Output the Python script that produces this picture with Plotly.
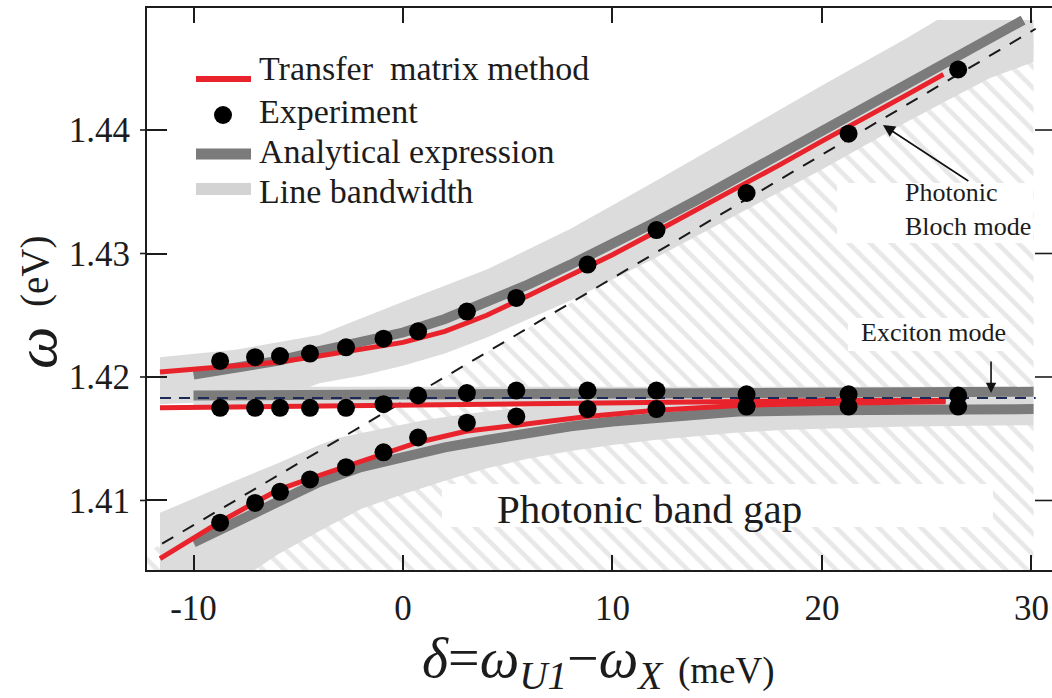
import plotly.graph_objects as go

# ---------------- data (detuning in meV, energy in eV) ----------------
exp_delta = [-8.73, -7.06, -5.87, -4.44, -2.72, -0.93, 0.72, 3.05, 5.41, 8.81, 12.1, 16.4, 21.27, 26.5]
exp_upper = [1.4213, 1.4216, 1.4217, 1.4219, 1.4224, 1.4231, 1.4237, 1.4253, 1.4264, 1.4291, 1.4319, 1.4349, 1.4397, 1.4449]
exp_middle = [1.4175, 1.4175, 1.4175, 1.4175, 1.4175, 1.4178, 1.4185, 1.4187, 1.4189, 1.4189, 1.4189, 1.4186, 1.4186, 1.4185]
exp_lower = [1.4082, 1.4098, 1.4107, 1.4117, 1.4127, 1.4139, 1.4151, 1.4163, 1.4168, 1.4174, 1.4174, 1.4176, 1.4176, 1.4176]

# transfer matrix method
tmm_up_delta = [-11.6, -10, -8, -6, -4, -2, 0, 2, 4, 6, 8, 10, 12, 14, 16, 18, 20, 22, 24, 25.8]
tmm_up = [1.4204, 1.4206, 1.4209, 1.4212, 1.4217, 1.4222, 1.4228, 1.4237, 1.4250, 1.4266, 1.4282,
          1.4299, 1.4317, 1.4335, 1.4354, 1.4372, 1.4391, 1.4409, 1.4428, 1.4445]
tmm_mid_delta = [-11.6, -5, 0, 5, 10, 15, 20, 25.9]
tmm_mid = [1.4175, 1.4176, 1.4177, 1.4178, 1.4179, 1.4180, 1.4181, 1.4181]
tmm_low_delta = [-11.6, -10, -8.7, -7, -5.9, -4.4, -2.7, -1, 0.7, 3, 5.4, 8.8, 12.1, 16, 21.3, 25.9]
tmm_low = [1.4053, 1.4070, 1.4083, 1.4099, 1.4109, 1.4118, 1.4128, 1.4138, 1.4147, 1.4156, 1.4161,
           1.4168, 1.4173, 1.4177, 1.4179, 1.4180]

# analytical expression
ana_up_delta = [-10, -8, -6, -4, -2, 0, 2, 4, 6, 8, 10, 12, 14, 16, 18, 20, 22, 24, 26, 28, 29.6]
ana_up = [1.4202, 1.4207, 1.4213, 1.4221, 1.4229, 1.4236, 1.4247, 1.4260, 1.4275, 1.4291, 1.4307,
          1.4325, 1.4343, 1.4362, 1.4381, 1.4400, 1.4418, 1.4437, 1.4456, 1.4474, 1.4489]
ana_mid_delta = [-10, 0, 10, 20, 30.1]
ana_mid = [1.4185, 1.4186, 1.4187, 1.4188, 1.4188]
ana_low_delta = [-10, -8, -6, -4, -2, 0, 2, 4, 6, 8, 10, 12, 14, 16, 20, 24, 30.1]
ana_low = [1.4066, 1.4083, 1.4100, 1.4115, 1.4127, 1.4136, 1.4143, 1.4149, 1.4155, 1.4160, 1.4164,
           1.4167, 1.4170, 1.4172, 1.4173, 1.4174, 1.4174]

# line bandwidth envelopes
bw_up_top_delta = [-11.6, -8, -4, 0, 4, 8, 12, 16, 20, 24, 25.5, 30.1]
bw_up_top = [1.4216, 1.4222, 1.4234, 1.4261, 1.4287, 1.4320, 1.4358, 1.4397, 1.4436, 1.4474, 1.4489, 1.4489]
bw_up_bot_delta = [-11.6, -6, -4, -2, 0, 2, 4, 6, 8, 10, 12, 14, 16, 18, 20, 22, 24, 26, 28, 30.1]
bw_up_bot = [1.4178, 1.4182, 1.4195, 1.4201, 1.4209, 1.4219, 1.4232, 1.4247, 1.4262, 1.4279, 1.4296,
             1.4314, 1.4332, 1.4350, 1.4368, 1.4387, 1.4406, 1.4424, 1.4442, 1.4455]
bw_x_delta = [-10, 30.1]
bw_x_top = [1.4192, 1.4192]
bw_x_bot = [1.4176, 1.4176]
bw_low_top_delta = [-11.6, -8, -6, -4, -3, -1, 1, 3, 5, 7, 30.1]
bw_low_top = [1.4090, 1.4116, 1.4130, 1.4145, 1.4151, 1.4158, 1.4165, 1.4170, 1.4174, 1.4177, 1.4178]
bw_low_bot_delta = [-11.6, -7.4, -6, -4, -2, 0, 2, 4, 6, 8, 10, 12, 14, 16, 18, 20, 24, 30.1]
bw_low_bot = [1.4040, 1.4040, 1.4056, 1.4075, 1.4093, 1.4105, 1.4116, 1.4126, 1.4134, 1.4140, 1.4145,
              1.4149, 1.4152, 1.4155, 1.4157, 1.4158, 1.4160, 1.4161]

# bare photon and exciton modes
photon_delta = [-11.5, 30.2]
photon_omega = [1.4065, 1.4482]
exciton_delta = [-11.6, 30.2]
exciton_omega = [1.4183, 1.4183]

# photonic band gap region (below the photon mode)
gap_delta = [-12.3, 30.1, 30.1, -12.3]
gap_omega = [1.4040, 1.4040, 1.4481, 1.4057]

x_ticks = [-10, 0, 10, 20, 30]
x_ticktext = ["-10", "0", "10", "20", "30"]
y_ticks = [1.41, 1.42, 1.43, 1.44]
y_ticktext = ["1.41", "1.42", "1.43", "1.44"]

# ---------------- style ----------------
FONT = "Liberation Serif, Times New Roman, DejaVu Serif, serif"
RED = "#e8232b"
DARK = "#7b7b7b"
LIGHT = "#dcdcdc"
INK = "#1c1c1c"

W, H = 1052, 698
ML, MR, MT, MB = 147, 0, 8, 128
PW, PH = W - ML - MR, H - MT - MB


def px(xp):
    return (xp - ML) / PW


def py(yp):
    return (H - MB - yp) / PH


def band(top_d, top_v, bot_d, bot_v):
    return top_d + bot_d[::-1], top_v + bot_v[::-1]


fig = go.Figure()

# hatched band gap
fig.add_trace(go.Scatter(
    x=gap_delta, y=gap_omega, mode="none", fill="toself",
    fillcolor="rgba(0,0,0,0)",
    fillpattern=dict(shape="\\", fgcolor="#d2d2d2", bgcolor="white", size=15, solidity=0.32),
    hoverinfo="skip"))

# light bandwidth areas
for td, tv, bd, bv in [(bw_up_top_delta, bw_up_top, bw_up_bot_delta, bw_up_bot),
                       (bw_low_top_delta, bw_low_top, bw_low_bot_delta, bw_low_bot),
                       (bw_x_delta, bw_x_top, bw_x_delta, bw_x_bot)]:
    bx, by = band(td, tv, bd, bv)
    fig.add_trace(go.Scatter(x=bx, y=by, mode="none", fill="toself", fillcolor=LIGHT,
                             hoverinfo="skip"))

# analytical expression
for d, v in [(ana_up_delta, ana_up), (ana_mid_delta, ana_mid), (ana_low_delta, ana_low)]:
    fig.add_trace(go.Scatter(x=d, y=v, mode="lines", line=dict(color=DARK, width=10)))

# bare photon mode
fig.add_trace(go.Scatter(x=photon_delta, y=photon_omega, mode="lines",
                         line=dict(color="#1a1a1a", width=2, dash="13px,11px")))

# transfer matrix method
for d, v in [(tmm_up_delta, tmm_up), (tmm_mid_delta, tmm_mid), (tmm_low_delta, tmm_low)]:
    fig.add_trace(go.Scatter(x=d, y=v, mode="lines", line=dict(color=RED, width=5)))

# exciton mode
fig.add_trace(go.Scatter(x=exciton_delta, y=exciton_omega, mode="lines",
                         line=dict(color="#1d2a57", width=2, dash="11px,8px")))

# experiment
for v in (exp_upper, exp_middle, exp_lower):
    fig.add_trace(go.Scatter(x=exp_delta, y=v, mode="markers",
                             marker=dict(color="black", size=18, line=dict(width=0))))

shapes = []
# white label backgrounds
for x0, x1, y0, y1 in [(1.86, 28.16, 1.40785, 1.41134),
                       (20.72, 30.07, 1.43085, 1.43571),
                       (21.24, 28.64, 1.42211, 1.42478)]:
    shapes.append(dict(type="rect", xref="x", yref="y", x0=x0, x1=x1, y0=y0, y1=y1,
                       fillcolor="white", line=dict(width=0), layer="above"))

# outer part of left ticks and inner ticks at right edge
for t in y_ticks:
    shapes.append(dict(type="line", xref="paper", yref="y", x0=px(140), x1=px(147), y0=t, y1=t,
                       line=dict(color=INK, width=1.6)))
    shapes.append(dict(type="line", xref="paper", yref="y", x0=px(1035), x1=1.0, y0=t, y1=t,
                       line=dict(color=INK, width=1.6)))

# legend samples
shapes.append(dict(type="line", xref="paper", yref="paper", x0=px(196), x1=px(251),
                   y0=py(79), y1=py(79), line=dict(color=RED, width=6)))
shapes.append(dict(type="circle", xref="paper", yref="paper", x0=px(214), x1=px(232),
                   y0=py(124), y1=py(106), fillcolor="black", line=dict(width=0)))
shapes.append(dict(type="line", xref="paper", yref="paper", x0=px(196), x1=px(251),
                   y0=py(154), y1=py(154), line=dict(color=DARK, width=11)))
shapes.append(dict(type="line", xref="paper", yref="paper", x0=px(196), x1=px(251),
                   y0=py(189), y1=py(189), line=dict(color="#d3d3d3", width=12)))

annotations = []
legend_items = [("Transfer\u00a0 matrix method", 68), ("Experiment", 112),
                ("Analytical expression", 151), ("Line bandwidth", 192)]
for txt, yp in legend_items:
    annotations.append(dict(text=txt, xref="paper", yref="paper", x=px(257), y=py(yp),
                            xanchor="left", yanchor="middle", showarrow=False,
                            font=dict(family=FONT, size=34, color=INK)))

annotations += [
    dict(text="Photonic band gap", xref="x", yref="y", x=11.79, y=1.4093,
         xanchor="center", yanchor="middle", showarrow=False,
         font=dict(family=FONT, size=41, color=INK)),
    dict(text="Photonic<br>Bloch mode", xref="x", yref="y", x=23.87, y=1.4336,
         xanchor="left", yanchor="middle", align="left", showarrow=False,
         font=dict(family=FONT, size=26, color=INK)),
    dict(text="Exciton mode", xref="x", yref="y", x=25.3, y=1.4236,
         xanchor="center", yanchor="middle", showarrow=False,
         font=dict(family=FONT, size=26, color=INK)),
    dict(text="", xref="x", yref="y", x=22.91, y=1.4404, axref="x", ayref="y",
         ax=27.06, ay=1.43579, showarrow=True, arrowhead=2, arrowsize=1.5,
         arrowwidth=1.6, arrowcolor="#111"),
    dict(text="", xref="x", yref="y", x=28.07, y=1.4187, axref="x", ayref="y",
         ax=28.07, ay=1.42138, showarrow=True, arrowhead=2, arrowsize=1.3,
         arrowwidth=1.6, arrowcolor="#111"),
    # y-axis title
    dict(text="<i>ω</i>", xref="paper", yref="paper", x=px(36), y=py(348), textangle=-90,
         showarrow=False, xanchor="center", yanchor="middle",
         font=dict(family=FONT, size=60, color=INK)),
    dict(text="(eV)", xref="paper", yref="paper", x=px(35), y=py(272), textangle=-90,
         showarrow=False, xanchor="center", yanchor="middle",
         font=dict(family=FONT, size=39, color=INK)),
    # x-axis title
    dict(text="<i>δ</i>=<i>ω</i><sub><i>U1</i></sub>−<i>ω</i><sub><i>X</i></sub>",
         xref="paper", yref="paper", x=px(543), y=py(662), showarrow=False,
         xanchor="center", yanchor="middle",
         font=dict(family=FONT, size=56, color=INK)),
    dict(text="(meV)", xref="paper", yref="paper", x=px(676), y=py(671), showarrow=False,
         xanchor="left", yanchor="middle",
         font=dict(family=FONT, size=37, color=INK)),
]

fig.update_layout(
    width=W, height=H,
    margin=dict(l=ML, r=MR, t=MT, b=MB),
    paper_bgcolor="white", plot_bgcolor="white",
    showlegend=False,
    shapes=shapes, annotations=annotations,
    font=dict(family=FONT, color=INK),
)
fig.update_xaxes(range=[-12.22, 30.98], tickvals=x_ticks, ticktext=x_ticktext,
                 ticks="inside", ticklen=15,
                 tickwidth=1.6, tickcolor=INK, showline=True, linewidth=2, linecolor=INK,
                 mirror="ticks", showgrid=False, zeroline=False, ticklabelstandoff=6,
                 tickfont=dict(family=FONT, size=35, color=INK))
fig.update_yaxes(range=[1.40437, 1.44988], tickvals=y_ticks, ticktext=y_ticktext,
                 ticks="inside", ticklen=20, tickwidth=1.6, tickcolor=INK,
                 showline=True, linewidth=2, linecolor=INK, mirror=False,
                 showgrid=False, zeroline=False, ticklabelstandoff=8,
                 tickfont=dict(family=FONT, size=35, color=INK))

fig.write_html("out.html")
